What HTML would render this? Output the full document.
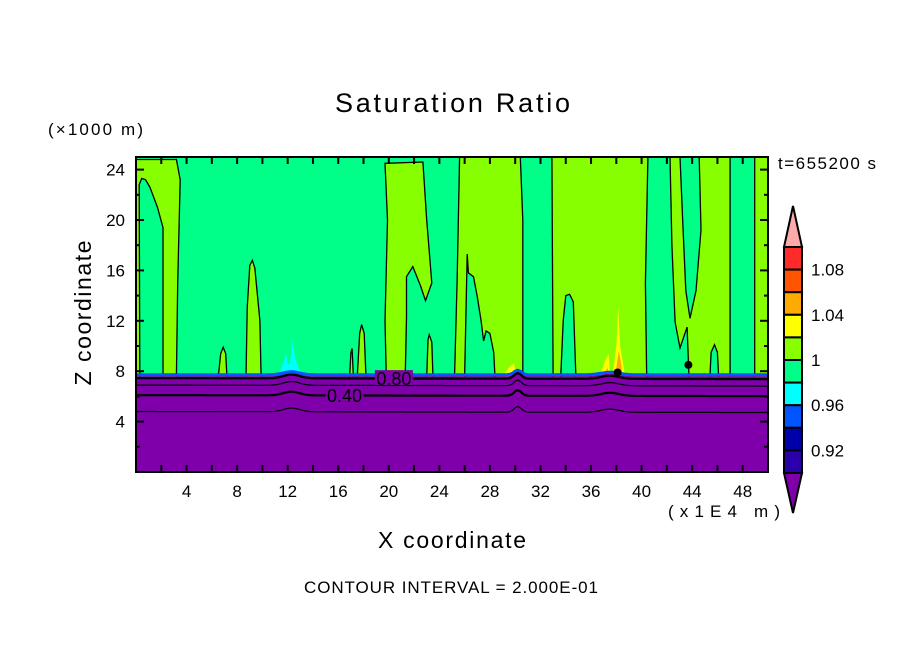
<!DOCTYPE html>
<html><head><meta charset="utf-8"><title>Saturation Ratio</title>
<style>
html,body{margin:0;padding:0;background:#fff;}
svg{display:block;}
text{font-family:"Liberation Sans",sans-serif;fill:#000;}
</style></head>
<body>
<svg id="chart" width="904" height="654" viewBox="0 0 904 654" xmlns="http://www.w3.org/2000/svg">
  <text x="335" y="112" font-size="27" textLength="235" lengthAdjust="spacing">Saturation Ratio</text>
  <text x="48" y="135" font-size="17" textLength="95" lengthAdjust="spacing">(×1000 m)</text>
  <text x="778" y="169" font-size="17" textLength="98" lengthAdjust="spacing">t=655200 s</text>
  <text x="668" y="517" font-size="17" textLength="112" lengthAdjust="spacing">(x1E4 m)</text>
  <text x="378" y="548" font-size="23" textLength="148" lengthAdjust="spacing">X coordinate</text>
  <text x="0" y="0" font-size="23" text-anchor="middle" textLength="145" lengthAdjust="spacing" transform="translate(91,313) rotate(-90)">Z coordinate</text>
  <text x="304" y="593" font-size="17" textLength="294" lengthAdjust="spacing">CONTOUR INTERVAL = 2.000E-01</text>
  <defs><clipPath id="clip"><rect x="136" y="157" width="632" height="315"/></clipPath></defs>
  <g id="plot" clip-path="url(#clip)"></g>
  <g id="axes"></g>
  <g id="cbar"></g>
</svg>
<script>
// ---- data ----
const xTicks = [4,8,12,16,20,24,28,32,36,40,44,48];
const zTicks = [4,8,12,16,20,24];
const cbarLabels = ["1.08","1.04","1","0.96","0.92"];
const cbarLevels = [1.08,1.04,1.00,0.96,0.92];
const cbarColors = ["#ff2a2a","#ff5500","#ffaa00","#ffff00","#88ff00","#00ff88","#00ffff","#0055ff","#0000aa","#2a00aa"];
const groundZ = 7.6;
const ygRegions = [
 [[0,24.8],[3.2,24.8],[3.5,23.2],[3.3,15],[3.2,7.5],[0,7.5]],
 [[6.5,7.5],[6.7,9.4],[6.9,9.9],[7.1,9.4],[7.2,7.5]],
 [[8.7,7.5],[8.8,13],[9.0,16.4],[9.2,16.8],[9.4,16.2],[9.8,12],[9.9,7.5]],
 [[16.9,7.5],[17.0,9.5],[17.1,9.8],[17.2,7.5]],
 [[17.5,7.5],[17.7,11],[17.85,11.7],[18.05,11],[18.2,7.5]],
 [[19.7,24.5],[22.7,24.6],[23.0,20],[23.4,15.0],[22.9,13.6],[22.5,14.8],[21.9,16.3],[21.4,15.5],[21.4,12.3],[21.3,7.5],[19.8,7.5],[19.7,12],[19.9,20]],
 [[23.0,7.5],[23.1,10.5],[23.2,10.9],[23.4,10.3],[23.5,7.5]],
 [[25.6,25],[30.4,25],[30.6,20],[30.6,7.5],[25.2,7.5],[25.4,15.1]],
 [[32.9,25],[40.5,25],[40.3,15],[40.4,7.5],[33.0,7.5]],
 [[42.25,25],[47.0,25],[47.0,7.5],[43.75,7.5],[43.6,11.5],[43.04,9.84],[42.65,11.9],[42.4,18]],
 [[48.95,25],[50,25],[50,7.5],[48.95,7.5]]
];
const greenHoles = [
 [[0.3,7.5],[0.25,22.8],[0.45,23.3],[0.75,23.2],[1.1,22.6],[1.7,21],[2.14,19.4],[2.14,7.5]],
 [[26.0,7.5],[26.2,17.3],[26.3,15.8],[26.7,15.5],[27.0,13.9],[27.3,12],[27.5,10.4],[27.7,11.2],[28.0,11.0],[28.3,9.5],[28.4,7.5]],
 [[33.6,7.5],[33.8,12],[34.0,14],[34.3,14.1],[34.6,13.5],[34.8,7.5]],
 [[43.04,25],[44.56,25],[44.7,19.2],[44.3,14.4],[43.83,12.2],[43.5,14.4],[43.28,19.2]],
 [[45.4,7.5],[45.5,9.5],[45.77,10.1],[46.0,9.5],[46.1,7.5]]
];
const yellowSpikes = [
 [[37.7,7.6],[38.0,10],[38.15,13.1],[38.3,10],[38.7,7.6]],
 [[36.7,7.6],[37.1,8.8],[37.4,9.4],[37.5,7.6]],
 [[29.0,7.6],[29.6,8.4],[29.9,8.6],[30.1,7.6]]
];
const orangeSpikes = [
 [[37.9,7.6],[38.1,9.0],[38.2,9.6],[38.35,8.8],[38.5,7.6]],
 [[37.0,7.6],[37.3,8.3],[37.4,7.6]]
];
const cyanSpikes = [
 [[11.3,7.6],[11.7,8.8],[11.9,9.4],[12.0,8.5],[12.2,8.6],[12.35,10.5],[12.6,9],[13.1,7.6]]
];
const lineLevels = [7.45, 6.9, 6.1, 4.8];
const lineThick = [true, false, true, false];
const bumpCenters = [12.3, 30.2, 37.5];
const bumpAmps = [0.3, 0.45, 0.25];
const bumpWidths = [0.9, 0.4, 1.0];
const lineLabels = [{t:"0.80", x:20.4, z:7.45},{t:"0.40", x:16.5, z:6.1}];

// ---- scales ----
const X0=136, X1=768, Y0=472, Y1=157;
const sx = x => X0 + (x/50)*(X1-X0);
const sy = z => Y0 - (z/25)*(Y0-Y1);
const NS="http://www.w3.org/2000/svg";
const plotG=document.getElementById('plot'), axesG=document.getElementById('axes'), cbarG=document.getElementById('cbar');
function mk(tag, attrs, parent){const e=document.createElementNS(NS,tag);for(const k in attrs)e.setAttribute(k,attrs[k]);parent.appendChild(e);return e;}
const pts = poly => poly.map(p=>sx(p[0]).toFixed(1)+","+sy(p[1]).toFixed(1)).join(" ");

const bg = mk('rect',{x:X0,y:Y1,width:X1-X0,height:Y0-Y1,fill:"#00ff88"},plotG);



ygRegions.forEach((r,i)=>{
  const e=mk('polygon',{points:pts(r),fill:"#88ff00",stroke:"#000","stroke-width":1.3},plotG);
  
  
});
greenHoles.forEach((r,i)=>{
  const e=mk('polygon',{points:pts(r),fill:"#00ff88",stroke:"#000","stroke-width":1.3},plotG);
  
  
});
cyanSpikes.forEach((r,i)=>{
  const e=mk('polygon',{points:pts(r),fill:"#00ffff"},plotG);
  
  
});
yellowSpikes.forEach((r,i)=>{
  const e=mk('polygon',{points:pts(r),fill:"#ffff00"},plotG);
  
  
});
orangeSpikes.forEach((r,i)=>{
  const e=mk('polygon',{points:pts(r),fill:"#ffaa00"},plotG);
  
  
});

function bump(x,k){let b=0;for(let i=0;i<bumpCenters.length;i++){const d=(x-bumpCenters[i])/bumpWidths[i];b+=bumpAmps[i]*k*Math.exp(-d*d);}return b;}
const N=250; const dryTop=[];
for(let i=0;i<=N;i++){const x=50*i/N;dryTop.push([x,groundZ+bump(x,0.8)]);}
const band=mk('polyline',{points:pts(dryTop.map(p=>[p[0],p[1]+0.12])),fill:"none",stroke:"#0055ff","stroke-width":3},plotG);


const dry=mk('polygon',{points:pts(dryTop.concat([[50,0],[0,0]])),fill:"#7f00aa"},plotG);


lineLevels.forEach((lv,j)=>{
  const ln=[];for(let i=0;i<=N;i++){const x=50*i/N;ln.push([x,lv+bump(x,1)-0.08*x/50]);}
  const e=mk('polyline',{points:pts(ln),fill:"none",stroke:"#000","stroke-width":lineThick[j]?2.2:1.2},plotG);
  
  
});
lineLabels.forEach((l,i)=>{
  const r=mk('rect',{x:sx(l.x)-19,y:sy(l.z)-8,width:38,height:15,fill:"#7f00aa"},plotG);
  
  
  const t=mk('text',{x:sx(l.x),y:sy(l.z)+7,"font-size":18,"text-anchor":"middle"},plotG);
  t.textContent=l.t;
  
  
});
[[38.1,7.9],[43.7,8.5]].forEach(p=>{
  const e=mk('ellipse',{cx:sx(p[0]),cy:sy(p[1]),rx:4,ry:4,fill:"#000"},plotG);
  
  
});

const fr=mk('rect',{x:X0,y:Y1,width:X1-X0,height:Y0-Y1,fill:"none",stroke:"#000","stroke-width":2},axesG);


for(let x=2;x<50;x+=2){
  const L=7;
  mk('line',{x1:sx(x),y1:Y0,x2:sx(x),y2:Y0-L,stroke:"#000","stroke-width":2},axesG);
  mk('line',{x1:sx(x),y1:Y1,x2:sx(x),y2:Y1+L,stroke:"#000","stroke-width":2},axesG);
}
for(let z=2;z<25;z+=2){
  const L=(z%4===0)?8:4;
  mk('line',{x1:X0,y1:sy(z),x2:X0+L,y2:sy(z),stroke:"#000","stroke-width":2},axesG);
  mk('line',{x1:X1,y1:sy(z),x2:X1-L,y2:sy(z),stroke:"#000","stroke-width":2},axesG);
}
xTicks.forEach(v=>{
  const t=mk('text',{x:sx(v),y:Y0+25,"font-size":17,"text-anchor":"middle"},axesG);
  t.textContent=v;
  
  
});
zTicks.forEach(v=>{
  const t=mk('text',{x:125,y:sy(v)+6,"font-size":17,"text-anchor":"end"},axesG);
  t.textContent=v;
  
  
});

const CX=784, CW=18, CT=247, BH=22.6;
const n=cbarColors.length;
const lvlY = v => CT + BH*((1.10 - v)/0.02);
const tri=mk('polygon',{points:`${CX},${CT} ${CX+CW/2},206 ${CX+CW},${CT}`,fill:"#ffaaaa",stroke:"#000","stroke-width":2},cbarG);


cbarColors.forEach((c,i)=>{
  const e=mk('rect',{x:CX,y:CT+i*BH,width:CW,height:BH,fill:c,stroke:"#000","stroke-width":2},cbarG);
  
  
});
const tri2=mk('polygon',{points:`${CX},${CT+n*BH} ${CX+CW/2},513 ${CX+CW},${CT+n*BH}`,fill:"#7f00aa",stroke:"#000","stroke-width":2},cbarG);


cbarLevels.forEach((v,i)=>{
  const t=mk('text',{x:811,y:lvlY(v)+6,"font-size":17},cbarG);
  t.textContent=cbarLabels[i];
  
  
});
</script>
</body></html>
